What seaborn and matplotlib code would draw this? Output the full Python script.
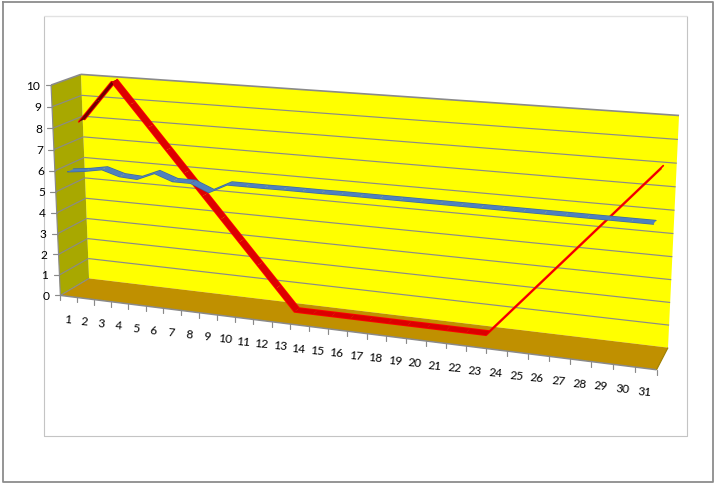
import numpy as np
import seaborn as sns
import matplotlib.pyplot as plt

days = list(range(1, 32))
red_values = [8, 9, 10, 9, 8, 7, 6, 5, 4, 3, 2, 1, 0, 0, 0, 0, 0, 0, 0, 0, 0, 0, 0,
              1, 2, 3, 4, 5, 6, 7, 8]
blue_values = [5.9, 6.0, 6.15, 5.9, 5.85, 6.2, 5.9, 5.9, 5.55, 5.98,
               5.98, 5.98, 5.99, 5.99, 5.99, 6.0, 6.0, 6.0, 6.0, 6.0, 6.0,
               6.0, 6.0, 6.0, 6.0, 6.0, 6.0, 6.0, 6.0, 6.0, 6.0]
y_ticks = list(range(0, 11))

sns.set_theme(style='white')
plt.rcParams['font.family'] = ['Lato', 'DejaVu Sans']

# camera fitted on the corners of the chart box: (category, value, depth) -> pixel
world = [(0, 0, 0), (8, 0, 0), (15, 0, 0), (23, 0, 0), (31, 0, 0), (0, 10, 0),
         (0, 0, 1), (31, 0, 1), (0, 10, 1), (31, 10, 1)]
pixel = [(61, 297), (198, 314), (328, 330), (486, 349), (657, 370), (51, 86),
         (89, 279), (668, 349), (81, 75), (679, 117)]
rows = []
for (X, Y, Z), (u, v) in zip(world, pixel):
    rows.append([X, Y, Z, 1, 0, 0, 0, 0, -u*X, -u*Y, -u*Z, -u])
    rows.append([0, 0, 0, 0, X, Y, Z, 1, -v*X, -v*Y, -v*Z, -v])
P = np.linalg.svd(np.array(rows, dtype=float))[2][-1].reshape(3, 4)

def proj(X, Y, Z):
    X, Y, Z = np.broadcast_arrays(np.asarray(X, float), np.asarray(Y, float), np.asarray(Z, float))
    h = P @ np.vstack([X.ravel(), Y.ravel(), Z.ravel(), np.ones(X.size)])
    return h[0]/h[2], h[1]/h[2]

def face(ax, pts, color, zorder=1):
    xs, ys = proj(*zip(*pts))
    ax.fill(xs, ys, color=color, lw=0, zorder=zorder)

def edge(ax, p0, p1, color='#8a8a8a', lw=0.85, zorder=2):
    xs, ys = proj(*zip(p0, p1))
    ax.plot(xs, ys, color=color, lw=lw, zorder=zorder, solid_capstyle='butt')

def ribbon(ax, cats, vals, z0, z1, top, rim, rim_lw, under=None, zorder=5):
    cats = np.array(cats, float) - 0.5
    vals = np.array(vals, float)
    for z in (z0, z1):
        xs, ys = proj(cats, vals, z)
        sns.lineplot(x=xs, y=ys, sort=False, estimator=None, errorbar=None, ax=ax,
                     color=rim, lw=rim_lw, zorder=zorder)
    for i in range(len(cats)-1):
        rising = vals[i+1] > vals[i]
        col = under if (rising and under and i < 3) else top
        face(ax, [(cats[i], vals[i], z0), (cats[i+1], vals[i+1], z0),
                  (cats[i+1], vals[i+1], z1), (cats[i], vals[i], z1)], col, zorder+0.1)

fig = plt.figure(figsize=(7.14, 4.85), dpi=100)
ax = fig.add_axes([0, 0, 1, 1])

# frames
ax.plot([2.5, 712.5, 712.5, 2.5, 2.5], [2.5, 2.5, 483, 483, 2.5], color='#8c8c8c', lw=1.3)
ax.plot([43.5, 43.5, 686.5, 686.5, 43.5], [437, 16.5, 16.5, 437, 437], color='#c4c4c4', lw=0.8)
ax.plot([43.5, 686.5], [16.5, 16.5], color='#e2e2e2', lw=0.8)

# chart box
face(ax, [(0, 0, 1), (31, 0, 1), (31, 10, 1), (0, 10, 1)], '#ffff00')
face(ax, [(0, 0, 0), (0, 0, 1), (0, 10, 1), (0, 10, 0)], '#a8a800')
face(ax, [(0, 0, 0), (31, 0, 0), (31, 0, 1), (0, 0, 1)], '#c09000')

for v in y_ticks[1:]:
    edge(ax, (0, v, 1), (31, v, 1), lw=1.2 if v == 10 else 0.85)
    edge(ax, (0, v, 0), (0, v, 1), lw=1.2 if v == 10 else 0.85)
edge(ax, (0, 0, 0), (0, 10, 0))
edge(ax, (0, 0, 0), (31, 0, 0), lw=1.1)
edge(ax, (0, 0, 0), (0, 0, 1))
edge(ax, (31, 0, 0), (31, 0, 1), color='#a08000')

# axis ticks and labels
for v, lab in zip(y_ticks, y_ticks):
    x, y = proj(0, v, 0)
    ax.plot([x[0]-5.5, x[0]], [y[0], y[0]], color='#8a8a8a', lw=0.85)
    ax.text(x[0]-11, y[0], str(lab), ha='right', va='center', fontsize=8.6, color='black')
for t in range(0, 32):
    x, y = proj(t, 0, 0)
    ax.plot([x[0], x[0]], [y[0], y[0]+5], color='#8a8a8a', lw=0.85)
for d in days:
    x, y = proj(d-0.5, 0, 0)
    ax.text(x[0]-1, y[0]+22.5, str(d), ha='center', va='center', fontsize=8.6,
            color='black', rotation=-5)

# series ribbons, back one first
ribbon(ax, days, red_values, 0.58, 0.78, '#dc0000', '#ff0000', 1.3, under='#6e0000')
ribbon(ax, days, blue_values, 0.14, 0.34, '#4f81bd', '#3f6a9c', 1.0, zorder=6)

ax.set_xlim(0, 714)
ax.set_ylim(485, 0)
ax.axis('off')
fig.savefig('out.png', dpi=100)
